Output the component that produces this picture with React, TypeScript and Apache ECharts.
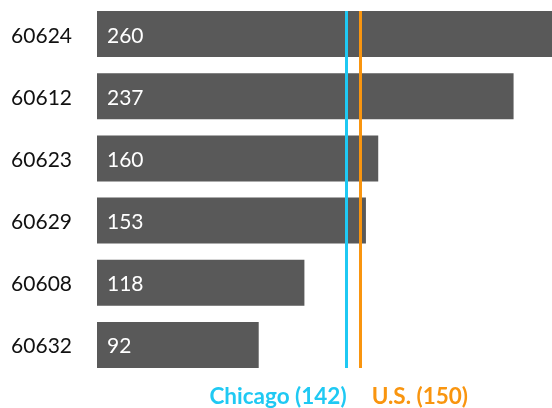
import React, { useEffect, useRef } from "react";
import * as echarts from "echarts";

const categories = ["60624", "60612", "60623", "60629", "60608", "60632"];
const values = [260, 237, 160, 153, 118, 92];
const chicagoValue = 142;
const usValue = 150;
const chicagoLabel = "Chicago (142)";
const usLabel = "U.S. (150)";

const CYAN = "#1FC9F3";
const ORANGE = "#F9950F";
const FONT = "Lato";

export default function App() {
  const ref = useRef<HTMLDivElement>(null);
  useEffect(() => {
    if (!ref.current) return;
    const chart = echarts.init(ref.current, undefined, { renderer: "svg" });
    chart.setOption({
      animation: false,
      grid: { left: 97, top: 3, width: 457, bottom: 32, containLabel: false, outerBoundsMode: "none" },
      xAxis: { type: "value", min: 0, max: 260, show: false },
      yAxis: {
        type: "category",
        data: categories,
        inverse: true,
        axisLine: { show: false },
        axisTick: { show: false },
        axisLabel: { color: "#111", fontSize: 21, fontFamily: FONT, margin: 25 },
      },
      series: [
        {
          type: "bar",
          data: values,
          barWidth: 46,
          itemStyle: { color: "#595959" },
          label: {
            show: true,
            position: "insideLeft",
            distance: 10,
            color: "#fff",
            fontSize: 21,
            fontFamily: FONT,
          },
          markLine: {
            silent: true,
            symbol: ["none", "none"],
            data: [
              [
                { xAxis: chicagoValue, y: 368, lineStyle: { color: CYAN, width: 3, type: "solid" },
                  label: { show: true, position: "start", formatter: chicagoLabel, color: CYAN, align: "right", verticalAlign: "middle", distance: 27, fontSize: 22.5, fontWeight: "bold", fontFamily: FONT } },
                { xAxis: chicagoValue, y: 11 },
              ],
              [
                { xAxis: usValue, y: 368, lineStyle: { color: ORANGE, width: 3, type: "solid" },
                  label: { show: true, position: "start", formatter: usLabel, color: ORANGE, align: "left", verticalAlign: "middle", distance: 27, offset: [11, 0], fontSize: 22.5, fontWeight: "bold", fontFamily: FONT } },
                { xAxis: usValue, y: 11 },
              ],
            ],
          },
        },
      ],
    });
    return () => chart.dispose();
  }, []);
  return <div ref={ref} style={{ position: "fixed", left: 0, top: 0, width: 552, height: 408 }} />;
}
